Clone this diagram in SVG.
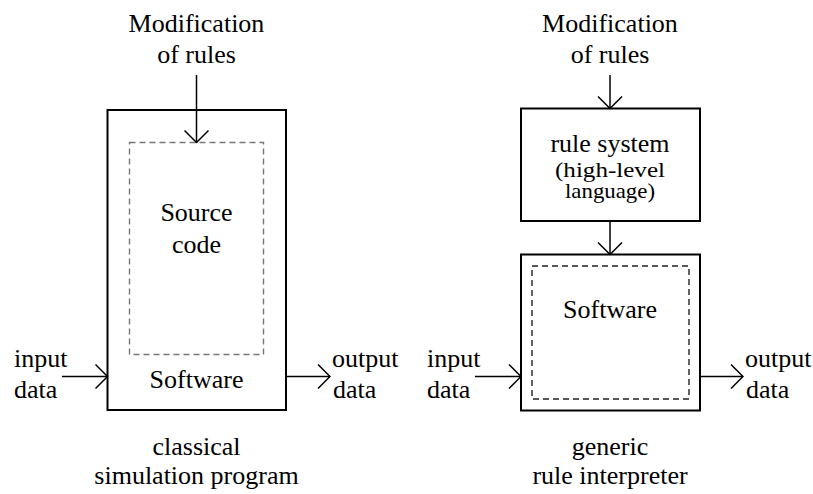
<svg xmlns="http://www.w3.org/2000/svg" width="813" height="494" viewBox="0 0 813 494">
<defs>
<marker id="v" markerWidth="14" markerHeight="26" refX="13" refY="13" orient="auto" markerUnits="userSpaceOnUse">
<path d="M1,1 L13,13 L1,25" fill="none" stroke="#000" stroke-width="1.5"/>
</marker>
</defs>
<rect width="813" height="494" fill="#fff"/>
<g id="left-program">
<rect x="107.5" y="110" width="178.5" height="300" fill="#fff" stroke="#000" stroke-width="2"/>
<rect x="129.5" y="142.5" width="134" height="212" fill="none" stroke="#777" stroke-width="1.4" stroke-dasharray="6 4"/>
<text style="font-family:'Liberation Serif',serif" font-size="26" text-anchor="middle" x="196.5" y="221">Source</text>
<text style="font-family:'Liberation Serif',serif" font-size="26" text-anchor="middle" x="196.5" y="253">code</text>
<text style="font-family:'Liberation Serif',serif" font-size="26" text-anchor="middle" x="196.5" y="388">Software</text>
</g>
<g id="left-mod">
<text style="font-family:'Liberation Serif',serif" font-size="26" text-anchor="middle" x="196.5" y="32">Modification</text>
<text style="font-family:'Liberation Serif',serif" font-size="26" text-anchor="middle" x="196.5" y="63">of rules</text>
</g>
<g id="left-input">
<text style="font-family:'Liberation Serif',serif" font-size="26" x="14" y="367">input</text>
<text style="font-family:'Liberation Serif',serif" font-size="26" x="14" y="398">data</text>
</g>
<g id="left-output">
<text style="font-family:'Liberation Serif',serif" font-size="26" x="332" y="367">output</text>
<text style="font-family:'Liberation Serif',serif" font-size="26" x="333" y="398">data</text>
</g>
<g id="left-caption">
<text style="font-family:'Liberation Serif',serif" font-size="26" text-anchor="middle" x="196.5" y="455">classical</text>
<text style="font-family:'Liberation Serif',serif" font-size="26" text-anchor="middle" x="196.5" y="484">simulation program</text>
</g>
<g id="rule-system">
<rect x="521" y="108.5" width="179" height="112.5" fill="#fff" stroke="#000" stroke-width="2"/>
<text style="font-family:'Liberation Serif',serif" font-size="26" text-anchor="middle" x="610" y="152">rule system</text>
<text style="font-family:'Liberation Serif',serif" font-size="21" text-anchor="middle" x="610" y="177" textLength="110" lengthAdjust="spacingAndGlyphs">(high-level</text>
<text style="font-family:'Liberation Serif',serif" font-size="21" text-anchor="middle" x="610" y="198" textLength="90" lengthAdjust="spacingAndGlyphs">language)</text>
</g>
<g id="right-software">
<rect x="521" y="254.5" width="179" height="156" fill="#fff" stroke="#000" stroke-width="2"/>
<rect x="532" y="266" width="157" height="133" fill="none" stroke="#222" stroke-width="1.4" stroke-dasharray="6 4"/>
<text style="font-family:'Liberation Serif',serif" font-size="26" text-anchor="middle" x="610" y="318">Software</text>
</g>
<g id="right-mod">
<text style="font-family:'Liberation Serif',serif" font-size="26" text-anchor="middle" x="610" y="32">Modification</text>
<text style="font-family:'Liberation Serif',serif" font-size="26" text-anchor="middle" x="610" y="63">of rules</text>
</g>
<g id="right-input">
<text style="font-family:'Liberation Serif',serif" font-size="26" x="427" y="367">input</text>
<text style="font-family:'Liberation Serif',serif" font-size="26" x="427" y="398">data</text>
</g>
<g id="right-output">
<text style="font-family:'Liberation Serif',serif" font-size="26" x="745" y="367">output</text>
<text style="font-family:'Liberation Serif',serif" font-size="26" x="746" y="398">data</text>
</g>
<g id="right-caption">
<text style="font-family:'Liberation Serif',serif" font-size="26" text-anchor="middle" x="610" y="455">generic</text>
<text style="font-family:'Liberation Serif',serif" font-size="26" text-anchor="middle" x="610" y="484">rule interpreter</text>
</g>
<g id="connectors" fill="none" stroke="#000" stroke-width="1.5" marker-end="url(#v)">
<line x1="196.5" y1="75" x2="196.5" y2="142.5"/>
<line x1="62" y1="376.5" x2="107.5" y2="376.5"/>
<line x1="286" y1="376.5" x2="330" y2="376.5"/>
<line x1="610" y1="75" x2="610" y2="108.5"/>
<line x1="610" y1="221" x2="610" y2="254.5"/>
<line x1="475" y1="376.5" x2="521" y2="376.5"/>
<line x1="700" y1="376.5" x2="743" y2="376.5"/>
</g>
</svg>
